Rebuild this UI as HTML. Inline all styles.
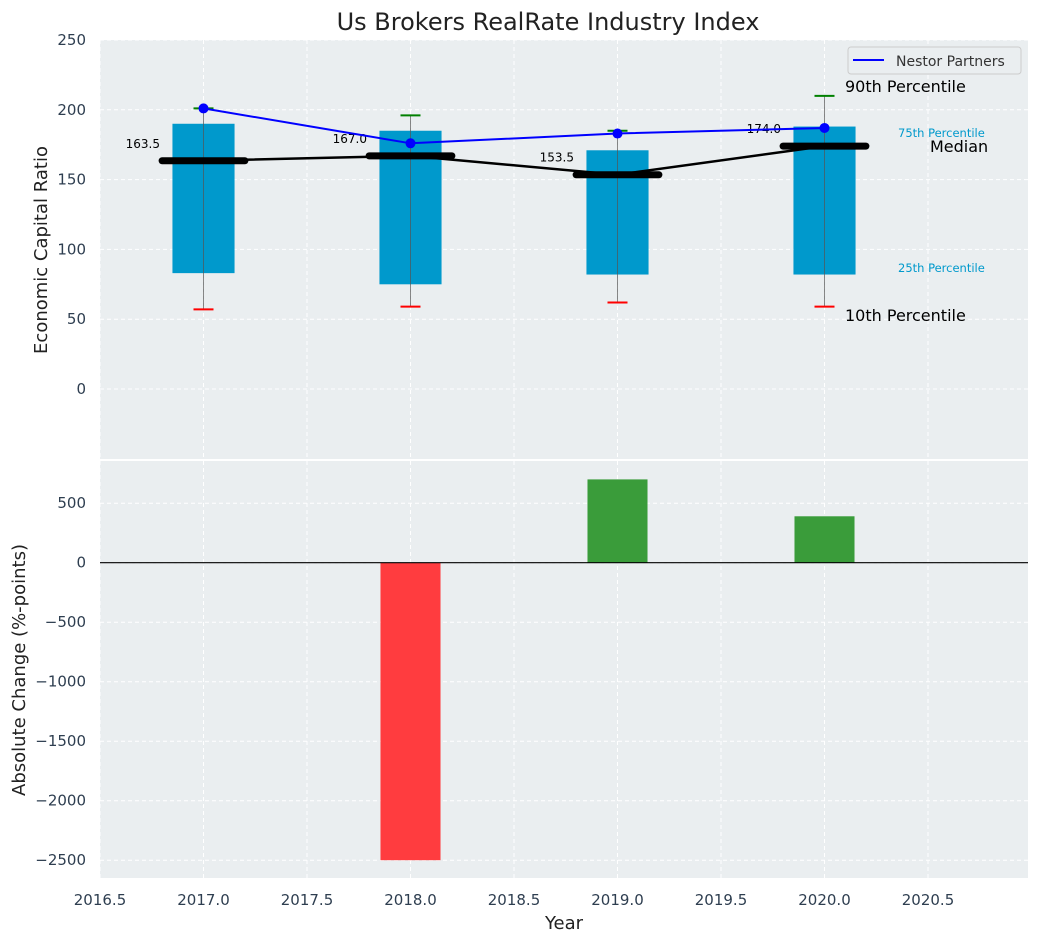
<!DOCTYPE html>
<html><head><meta charset="utf-8"><style>
body{margin:0;background:#fff}
svg text{font-family:"DejaVu Sans","Liberation Sans",sans-serif}
</style></head><body>
<svg id="c" width="1039" height="942" xmlns="http://www.w3.org/2000/svg"></svg>
<script>
const years=[2017,2018,2019,2020];
const p90=[201,196,185,210];
const p75=[190,185,171,188];
const medians=[163.5,167,153.5,174];
const p25=[83,75,82,82];
const p10=[57,59,62,59];
const nestor=[201,176,183,187];
const changes=[0,-2500,700,390];
const xTicks=[2016.5,2017,2017.5,2018,2018.5,2019,2019.5,2020,2020.5];
const yTopTicks=[0,50,100,150,200,250];
const yBotTicks=[-2500,-2000,-1500,-1000,-500,0,500];

const NS="http://www.w3.org/2000/svg";
const svg=document.getElementById('c');
function el(t,a,p){const e=document.createElementNS(NS,t);for(const k in a)e.setAttribute(k,a[k]);(p||svg).appendChild(e);return e;}
const L=100,R=1028;
const X=v=>L+(v-2016.5)*207;
const T0=40,T1=459,B0=461,B1=878;
const Yt=v=>389-v*1.396;
const Yb=v=>562.7-v*0.1190;

let e;
e=el('rect',{x:L,y:T0,width:R-L,height:T1-T0,fill:'#eaeef0'});


e=el('rect',{x:L,y:B0,width:R-L,height:B1-B0,fill:'#eaeef0'});



xTicks.forEach(t=>{
 [[T0,T1],[B0,B1]].forEach(r=>{
  e=el('line',{x1:X(t),x2:X(t),y1:r[0],y2:r[1],stroke:'#fff','stroke-dasharray':'4,3','stroke-width':1});
  
  
 });
 e=el('text',{x:X(t),y:905,'text-anchor':'middle','font-size':15,fill:'#2e3e50'});e.textContent=t.toFixed(1);
 
 
});
yTopTicks.forEach(t=>{
 e=el('line',{x1:L,x2:R,y1:Yt(t),y2:Yt(t),stroke:'#fff','stroke-dasharray':'4,3'});
 
 
 e=el('text',{x:86,y:Yt(t)+5,'text-anchor':'end','font-size':15,fill:'#2e3e50'});e.textContent=t;
 
 
});
yBotTicks.forEach(t=>{
 e=el('line',{x1:L,x2:R,y1:Yb(t),y2:Yb(t),stroke:'#fff','stroke-dasharray':'4,3'});
 
 
 e=el('text',{x:86,y:Yb(t)+5,'text-anchor':'end','font-size':15,fill:'#2e3e50'});e.textContent=(t<0?'\u2212'+(-t):t);
 
 
});

years.forEach((y,i)=>{
 e=el('rect',{x:X(y-0.15),y:Yt(p75[i]),width:X(y+0.15)-X(y-0.15),height:Yt(p25[i])-Yt(p75[i]),fill:'#0099cc'});
 
 
 e=el('line',{x1:X(y),x2:X(y),y1:Yt(p90[i]),y2:Yt(p10[i]),stroke:'#555',opacity:0.7,'stroke-width':1});
 
 
 e=el('line',{x1:X(y)-10,x2:X(y)+10,y1:Yt(p90[i]),y2:Yt(p90[i]),stroke:'green','stroke-width':2});
 
 
 e=el('line',{x1:X(y)-10,x2:X(y)+10,y1:Yt(p10[i]),y2:Yt(p10[i]),stroke:'red','stroke-width':2});
 
 
});
e=el('polyline',{points:years.map((y,i)=>X(y)+','+Yt(medians[i])).join(' '),fill:'none',stroke:'#000','stroke-width':2.5});


years.forEach((y,i)=>{
 e=el('line',{x1:X(y-0.2),x2:X(y+0.2),y1:Yt(medians[i]),y2:Yt(medians[i]),stroke:'#000','stroke-width':7,'stroke-linecap':'round'});
 
 
 e=el('text',{x:X(y-0.21),y:Yt(medians[i])-13,'text-anchor':'end','font-size':12,fill:'#000'});e.textContent=medians[i].toFixed(1);
 
 
});
e=el('polyline',{points:years.map((y,i)=>X(y)+','+Yt(nestor[i])).join(' '),fill:'none',stroke:'#0000ff','stroke-width':2});


years.forEach((y,i)=>{
 e=el('circle',{cx:X(y),cy:Yt(nestor[i]),r:5,fill:'#0000ff'});
 
 
});
const ann=[['90th Percentile',845,92,16,'#000'],['75th Percentile',898,137,11.5,'#0099cc'],['Median',930,152,16,'#000'],['25th Percentile',898,272,11.5,'#0099cc'],['10th Percentile',845,321,16,'#000']];
ann.forEach(a=>{e=el('text',{x:a[1],y:a[2],'font-size':a[3],fill:a[4]});e.textContent=a[0];
 
 });
const g=el('g',{});


el('rect',{x:848,y:47,width:173,height:27,rx:3,fill:'#eaeef0',stroke:'#ccc'},g);
el('line',{x1:853,x2:884,y1:60,y2:60,stroke:'#0000ff','stroke-width':2},g);
e=el('text',{x:896,y:66,'font-size':14,fill:'#333'},g);e.textContent='Nestor Partners';

years.forEach((y,i)=>{
 const v=changes[i];
 e=el('rect',{x:X(y-0.145),y:Math.min(Yb(0),Yb(v)),width:X(y+0.145)-X(y-0.145),height:Math.abs(Yb(v)-Yb(0)),fill:v<0?'#ff3c3f':'#3a9c3a'});
 
 
});
e=el('line',{x1:L,x2:R,y1:Yb(0),y2:Yb(0),stroke:'#000','stroke-width':1.2});



e=el('text',{x:548,y:30,'text-anchor':'middle','font-size':24,fill:'#222'});e.textContent='Us Brokers RealRate Industry Index';


e=el('text',{x:47,y:250,'text-anchor':'middle','font-size':18,fill:'#222',transform:'rotate(-90 47 250)'});e.textContent='Economic Capital Ratio';


e=el('text',{x:25,y:670,'text-anchor':'middle','font-size':18,fill:'#222',transform:'rotate(-90 25 670)'});e.textContent='Absolute Change (%-points)';


e=el('text',{x:564,y:929,'text-anchor':'middle','font-size':18,fill:'#222'});e.textContent='Year';


</script>
</body></html>
